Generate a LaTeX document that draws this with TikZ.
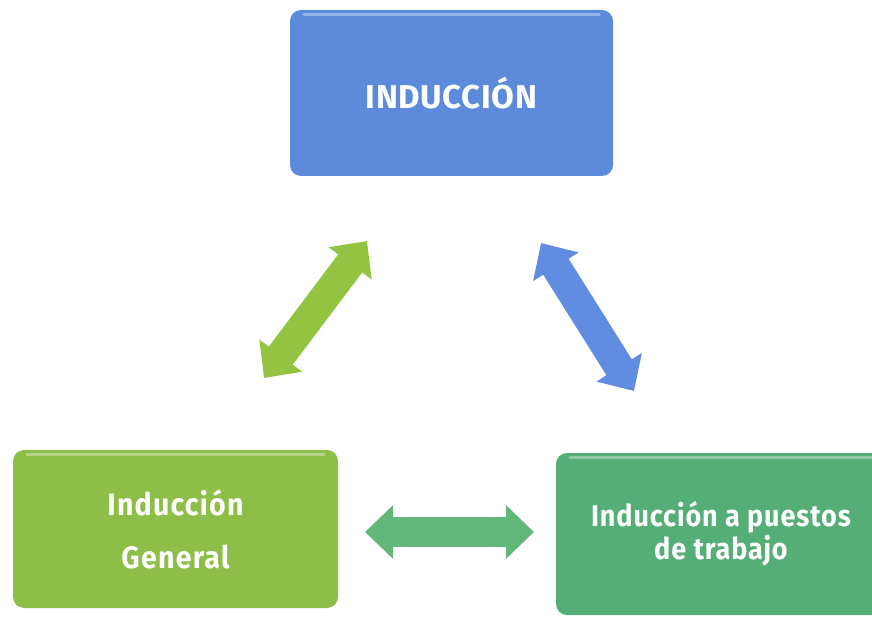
\documentclass[tikz,border=0pt]{standalone}
\usepackage{fontspec}
\setmainfont{Fira Sans}
\usetikzlibrary{arrows.meta}
\definecolor{bluebox}{RGB}{92,139,220}
\definecolor{greenbox}{RGB}{141,190,72}
\definecolor{tealbox}{RGB}{84,174,117}
\definecolor{bluearrow}{RGB}{96,141,226}
\definecolor{greenarrow}{RGB}{146,196,66}
\definecolor{tealarrow}{RGB}{98,184,122}
\tikzset{
  box/.style={rounded corners=11pt, inner sep=0pt, text=white, align=center,
    font=\bfseries\fontsize{31}{31}\selectfont},
  gloss/.style={white, opacity=0.35, line width=3pt, line cap=round},
  dblarrow/.style={line width=30pt,
    {Triangle[length=28pt,width=52pt]}-{Triangle[length=28pt,width=52pt]}}
}
\begin{document}
\begin{tikzpicture}[x=1pt,y=-1pt]
\useasboundingbox (0,0) rectangle (872,617);
\clip (0,0) rectangle (872,617);
% boxes
\node[box, fill=bluebox, minimum width=323pt, minimum height=166pt,
  font=\bfseries\fontsize{33}{33}\selectfont] (top) at (451.5,93)
  {\addfontfeature{LetterSpace=2}INDUCCIÓN};
\node[box, fill=greenbox, minimum width=325pt, minimum height=158pt] (left) at (175.5,529)
  {\addfontfeature{FakeStretch=0.92,LetterSpace=4}Inducción\\[22pt]\addfontfeature{FakeStretch=0.92,LetterSpace=4}General};
\node[box, fill=tealbox, minimum width=330pt, minimum height=162pt,
  font=\bfseries\fontsize{30}{33}\selectfont] (right) at (721,534)
  {\addfontfeature{FakeStretch=0.9,LetterSpace=3}Inducción a puestos\\\addfontfeature{FakeStretch=0.9,LetterSpace=3}de trabajo};
% gloss highlights
\draw[gloss] ([xshift=14pt,yshift=-5pt]top.north west) -- ([xshift=-14pt,yshift=-5pt]top.north east);
\draw[gloss] ([xshift=14pt,yshift=-5pt]left.north west) -- ([xshift=-14pt,yshift=-5pt]left.north east);
\draw[gloss] ([xshift=14pt,yshift=-5pt]right.north west) -- ([xshift=-14pt,yshift=-5pt]right.north east);
% arrow end points
\coordinate (g1) at (264,378);
\coordinate (g2) at (367,241);
\coordinate (b1) at (541,243);
\coordinate (b2) at (634,391);
\coordinate (h1) at (365,532);
\coordinate (h2) at (534,532);
% arrows
\draw[dblarrow, draw=greenarrow] (g1) -- (g2);
\draw[dblarrow, draw=bluearrow] (b1) -- (b2);
\draw[dblarrow, draw=tealarrow] (h1) -- (h2);
\end{tikzpicture}
\end{document}
